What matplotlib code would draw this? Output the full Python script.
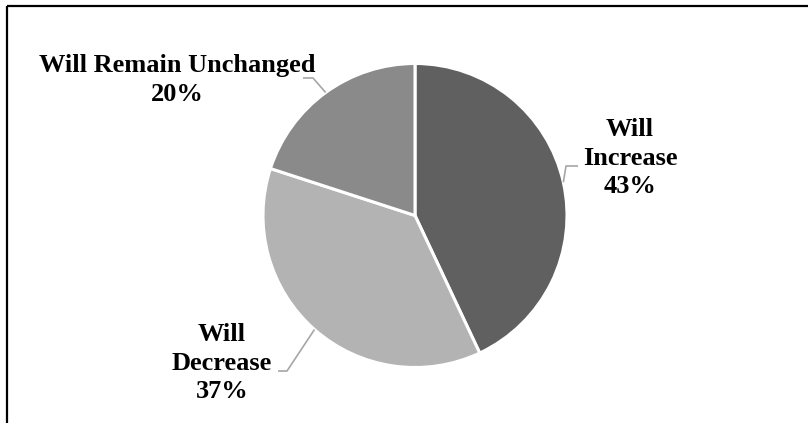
import numpy as np
import matplotlib
matplotlib.use("Agg")
import matplotlib.pyplot as plt

categories = ["Will Increase", "Will Decrease", "Will Remain Unchanged"]
values = [43, 37, 20]
label_texts = ["Will\nIncrease\n43%", "Will\nDecrease\n37%", "Will Remain Unchanged\n20%"]
colors = ["#606060", "#b3b3b3", "#8a8a8a"]

W, H = 808, 423
fig = plt.figure(figsize=(W / 100, H / 100), dpi=100)
ax = fig.add_axes([0, 0, 1, 1])

cx, cy, R = 415, H - 215.5, 152
wedges, _ = ax.pie(values, startangle=90, counterclock=False, colors=colors,
                   center=(cx, cy), radius=R,
                   wedgeprops=dict(edgecolor="white", linewidth=2.2))
ax.set_xlim(0, W)
ax.set_ylim(0, H)
ax.set_aspect("equal")
ax.axis("off")

# label positions (pixel coords from top) and leader elbows
label_pos = [(630, 158), (222, 363), (177, 80)]
elbows = [[(578, 166), (566, 166)], [(278, 371), (287, 371)], [(303, 78), (313, 78)]]

for w, txt, (lx, ly), elb in zip(wedges, label_texts, label_pos, elbows):
    mid = np.deg2rad((w.theta1 + w.theta2) / 2)
    px, py = cx + R * np.cos(mid), cy + R * np.sin(mid)
    xs = [e[0] for e in elb] + [px]
    ys = [H - e[1] for e in elb] + [py]
    ax.plot(xs, ys, color="#a6a6a6", lw=1.2, solid_capstyle="butt", zorder=1)
    ax.text(lx, H - ly, txt, ha="center", va="center", fontsize=19,
            fontweight="bold", family="Liberation Serif", linespacing=1.32,
            color="black")

# partial frame: top and left
ax.plot([7, W], [H - 5.5, H - 5.5], color="black", lw=1.6, solid_capstyle="butt")
ax.plot([7, 7], [H - 5.5, 0], color="black", lw=1.6, solid_capstyle="butt")

fig.savefig("out.png", dpi=100)
